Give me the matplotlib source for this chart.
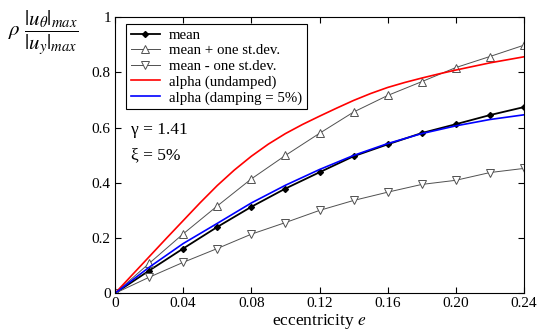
import numpy as np
import matplotlib
matplotlib.use("Agg")
import matplotlib.pyplot as plt

plt.rcParams['font.family'] = ['Liberation Serif', 'DejaVu Serif']
plt.rcParams['mathtext.fontset'] = 'stix'

ecc = [0.00, 0.02, 0.04, 0.06, 0.08, 0.10, 0.12, 0.14, 0.16, 0.18, 0.20, 0.22, 0.24]
mean = [0.0, 0.082, 0.162, 0.240, 0.313, 0.379, 0.438, 0.496, 0.539, 0.580, 0.612, 0.645, 0.674]
mean_plus = [0.0, 0.108, 0.215, 0.316, 0.414, 0.499, 0.579, 0.656, 0.716, 0.766, 0.817, 0.857, 0.898]
mean_minus = [0.0, 0.058, 0.112, 0.162, 0.214, 0.256, 0.300, 0.336, 0.366, 0.394, 0.409, 0.437, 0.452]
alpha_damped = [0.0, 0.094, 0.180, 0.253, 0.327, 0.391, 0.448, 0.499, 0.542, 0.578, 0.606, 0.629, 0.646]

ecc_fine = [0.00, 0.01, 0.02, 0.03, 0.04, 0.05, 0.06, 0.07, 0.08, 0.09, 0.10, 0.11, 0.12,
            0.13, 0.14, 0.15, 0.16, 0.17, 0.18, 0.19, 0.20, 0.21, 0.22, 0.23, 0.24]
alpha_undamped = [0.0, 0.066, 0.132, 0.198, 0.263, 0.328, 0.390, 0.446, 0.496, 0.540, 0.578,
                  0.611, 0.641, 0.670, 0.698, 0.723, 0.745, 0.763, 0.779, 0.794, 0.808,
                  0.821, 0.834, 0.845, 0.856]

xticks = [0, 0.04, 0.08, 0.12, 0.16, 0.20, 0.24]
xticklabels = ['0', '0.04', '0.08', '0.12', '0.16', '0.20', '0.24']
yticks = [0, 0.2, 0.4, 0.6, 0.8, 1.0]
yticklabels = ['0', '0.2', '0.4', '0.6', '0.8', '1']

fig = plt.figure(figsize=(5.53, 3.33), dpi=100)
ax = fig.add_axes([115/553, 1-293.3/333, 409/553, 276.3/333])

gray = '#505050'
ax.plot(ecc, mean, color='black', lw=1.3, marker='D', ms=3, mfc='black', mec='black', label='mean')
ax.plot(ecc, mean_plus, color=gray, lw=0.7, marker='^', ms=6, mfc='white', mec=gray, mew=0.7, label='mean + one st.dev.')
ax.plot(ecc, mean_minus, color=gray, lw=0.7, marker='v', ms=6, mfc='white', mec=gray, mew=0.7, label='mean - one st.dev.')
ax.plot(ecc_fine, alpha_undamped, color='#ff0000', lw=1.2, label='alpha (undamped)')
ax.plot(ecc, alpha_damped, color='#0000ff', lw=1.2, label='alpha (damping = 5%)')

ax.set_xlim(0, 0.24)
ax.set_ylim(0, 1)
ax.set_xticks(xticks)
ax.set_xticklabels(xticklabels)
ax.set_yticks(yticks)
ax.set_yticklabels(yticklabels)
ax.tick_params(direction='in', top=True, right=True, length=4, labelsize=11, pad=3)
for s in ax.spines.values():
    s.set_linewidth(0.8)

leg = ax.legend(loc='upper left', bbox_to_anchor=(0.027, 0.975), fontsize=10.7,
                frameon=True, fancybox=False, edgecolor='black', framealpha=1,
                borderaxespad=0, handlelength=2.0, labelspacing=0.15, borderpad=0.3,
                handletextpad=0.6)
leg.get_frame().set_linewidth(0.8)

fig.text(131/553, 1-130/333, 'γ = 1.41', fontsize=12.5, va='center')
fig.text(131/553, 1-155/333, 'ξ = 5%', fontsize=12.5, va='center')

ax.set_xlabel(r'eccentricity $e$', fontsize=12.5, labelpad=1)
fig.text(8/553, 1-33/333, r'$\rho\ \dfrac{|u_\theta|_{max}}{|u_y|_{max}}$', fontsize=15, va='center')

fig.savefig('out.png', dpi=100)
